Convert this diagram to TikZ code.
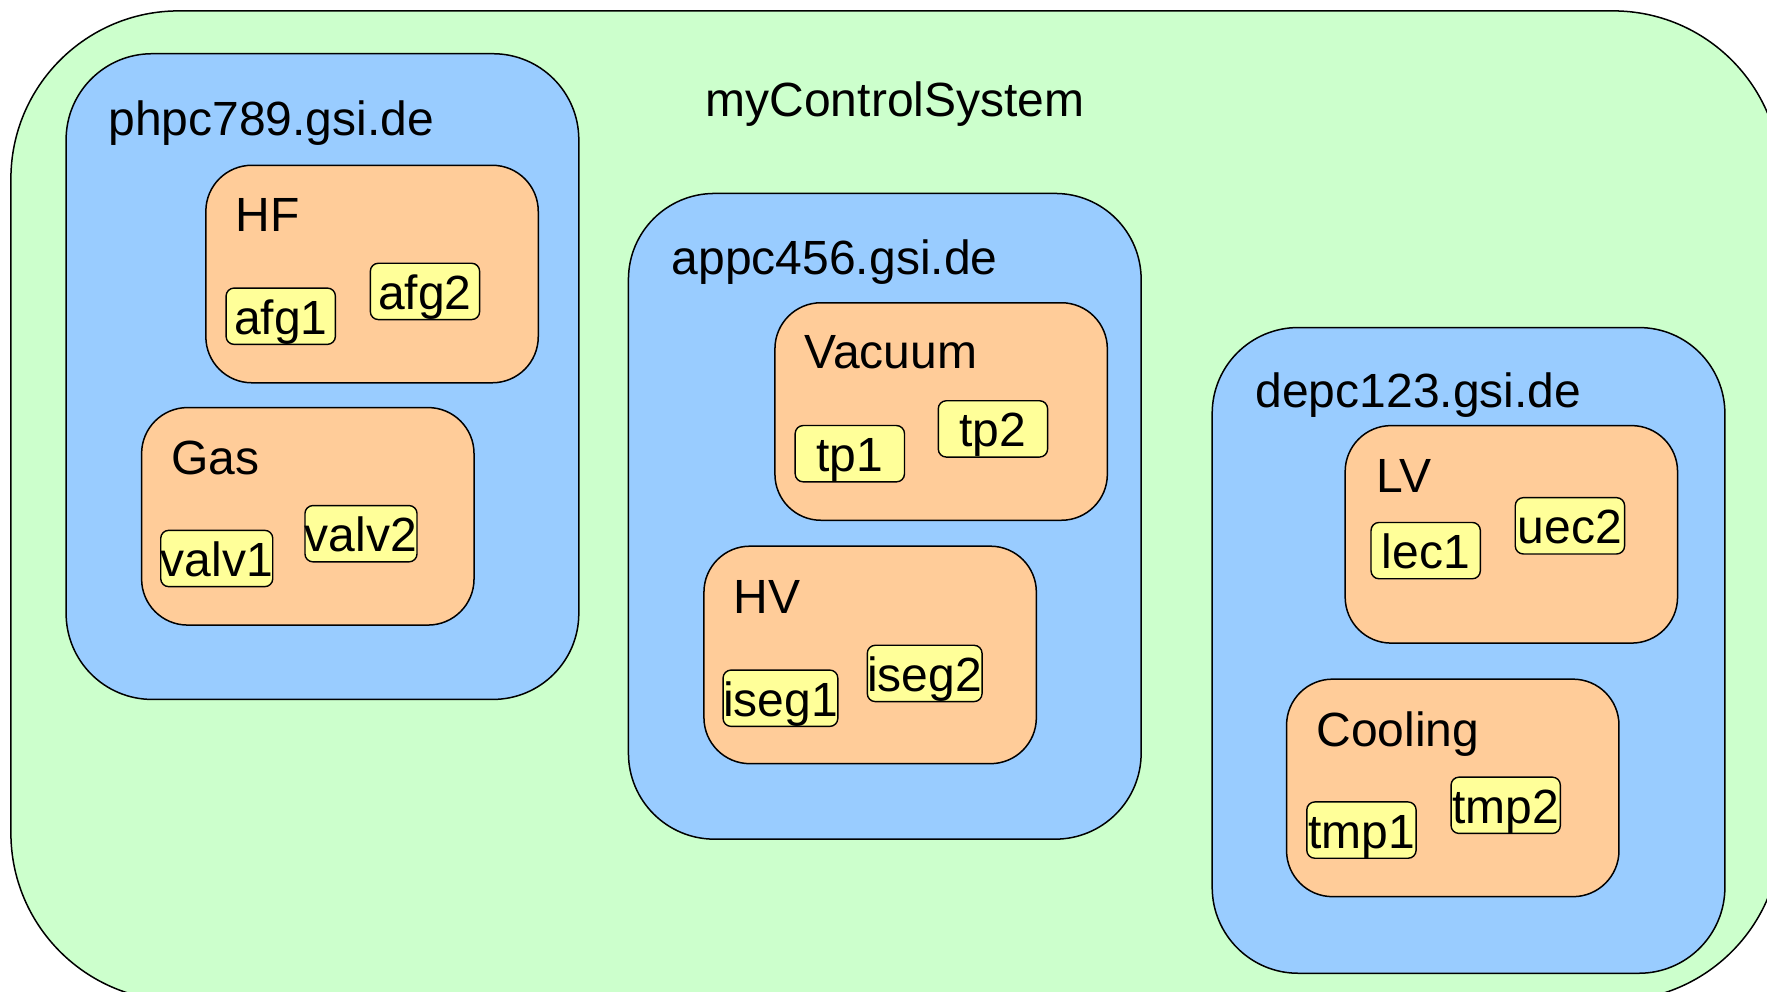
\documentclass[tikz,border=0pt]{standalone}
\usepackage{fontspec}
\setmainfont{Liberation Sans}
\definecolor{sysgreen}{HTML}{CCFFCC}
\definecolor{hostblue}{HTML}{99CCFF}
\definecolor{grporange}{HTML}{FFCC99}
\definecolor{devyellow}{HTML}{FFFF99}
\begin{document}
\begin{tikzpicture}[x=1.1269pt,y=-1.1269pt,
  every node/.style={font=\fontsize{48}{58}\selectfont},
  sysbox/.style={draw=black, line width=1.5pt, fill=sysgreen, rounded corners=168pt,
    minimum width=1770pt, minimum height=990pt, anchor=north west, inner sep=0pt},
  hostbox/.style={draw=black, line width=1.5pt, fill=hostblue, rounded corners=86pt,
    minimum width=512.7pt, minimum height=645.7pt, anchor=north west, inner sep=0pt},
  grpbox/.style={draw=black, line width=1.5pt, fill=grporange, rounded corners=46pt,
    minimum width=332.4pt, minimum height=217.5pt, anchor=north west, inner sep=0pt},
  devbox/.style={draw=black, line width=1.4pt, fill=devyellow, rounded corners=8pt,
    minimum width=109.3pt, minimum height=56.3pt, anchor=north west, inner sep=0pt,
    text height=46pt, text depth=10pt},
  lbl/.style={anchor=base west, inner sep=0pt}
]
\clip (0,0) rectangle (1568,880);
% outer system
\node[sysbox] (sys) at (9,9) {};
\node[lbl] (sysl) at (626,103) {myControlSystem};
% hosts
\node[hostbox] (phpc) at (58,47) {};
\node[lbl] (phpcl) at (96,120) {phpc789.gsi.de};
\node[hostbox] (appc) at (557,171) {};
\node[lbl] (appcl) at (596,244) {appc456.gsi.de};
\node[hostbox] (depc) at (1075,290) {};
\node[lbl] (depcl) at (1114,362) {depc123.gsi.de};
% groups
\node[grpbox] (hf) at (182,146) {};
\node[lbl] (hfl) at (209,205) {HF};
\node[grpbox] (gas) at (125,361) {};
\node[lbl] (gasl) at (152,421) {Gas};
\node[grpbox] (vac) at (687,268) {};
\node[lbl] (vacl) at (714,327) {Vacuum};
\node[grpbox] (hv) at (624,484) {};
\node[lbl] (hvl) at (651,544) {HV};
\node[grpbox] (lv) at (1193,377) {};
\node[lbl] (lvl) at (1221,437) {LV};
\node[grpbox] (cool) at (1141,602) {};
\node[lbl] (cooll) at (1168,662) {Cooling};
% devices
\node[devbox] (afg1) at (200,255) {afg1};
\node[devbox] (afg2) at (328,233) {afg2};
\node[devbox] (valv1) at (142,470) {valv1};
\node[devbox] (valv2) at (270,448) {valv2};
\node[devbox] (tp1) at (705,377) {tp1};
\node[devbox] (tp2) at (832,355) {tp2};
\node[devbox] (iseg1) at (641,594) {iseg1};
\node[devbox] (iseg2) at (769,572) {iseg2};
\node[devbox] (lec1) at (1216,463) {lec1};
\node[devbox] (uec2) at (1344,441) {uec2};
\node[devbox] (tmp1) at (1159,711) {tmp1};
\node[devbox] (tmp2) at (1287,689) {tmp2};
\end{tikzpicture}
\end{document}
